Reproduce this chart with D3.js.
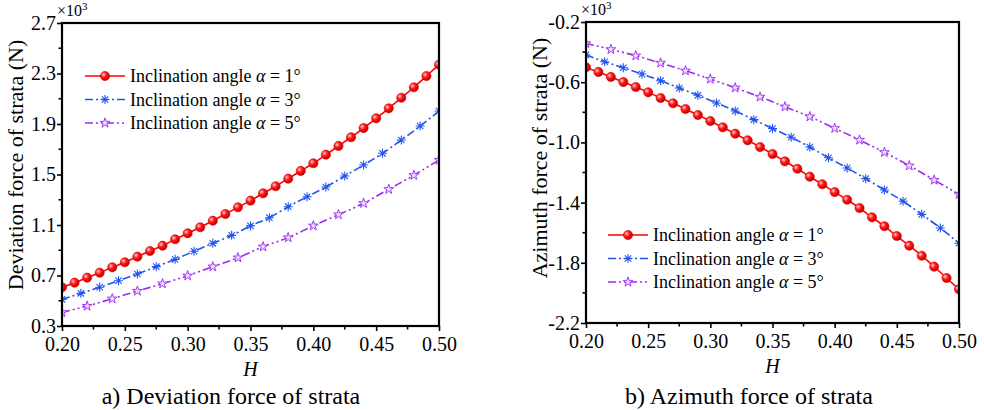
<!DOCTYPE html>
<html>
<head>
<meta charset="utf-8">
<script src="https://cdn.jsdelivr.net/npm/d3@7"></script>
<style>
  body { margin: 0; background: #fff; }
  svg { display: block; font-family: "Liberation Serif", "Times New Roman", serif; }
</style>
</head>
<body>
<svg id="chart" width="984" height="410"></svg>
<script>
// H positions of the markers for each series
var hRed = [0.20, 0.21, 0.22, 0.23, 0.24, 0.25, 0.26, 0.27, 0.28, 0.29, 0.30,
            0.31, 0.32, 0.33, 0.34, 0.35, 0.36, 0.37, 0.38, 0.39, 0.40,
            0.41, 0.42, 0.43, 0.44, 0.45, 0.46, 0.47, 0.48, 0.49, 0.50];
var hBlue = [0.20, 0.215, 0.23, 0.245, 0.26, 0.275, 0.29, 0.305, 0.32, 0.335, 0.35,
             0.365, 0.38, 0.395, 0.41, 0.425, 0.44, 0.455, 0.47, 0.485, 0.50];
var hPurple = [0.20, 0.22, 0.24, 0.26, 0.28, 0.30, 0.32, 0.34,
               0.36, 0.38, 0.40, 0.42, 0.44, 0.46, 0.48, 0.50];

// a) deviation force (x10^3 N)
var devRed = [0.607, 0.643, 0.683, 0.722, 0.765, 0.805, 0.849, 0.894, 0.936, 0.987, 1.034,
              1.082, 1.134, 1.187, 1.240, 1.293, 1.351, 1.407, 1.467, 1.528, 1.589,
              1.657, 1.726, 1.795, 1.868, 1.945, 2.024, 2.108, 2.191, 2.280, 2.370];
var devBlue = [0.511, 0.559, 0.607, 0.659, 0.712, 0.770, 0.828, 0.892, 0.955, 1.018, 1.093,
               1.158, 1.245, 1.324, 1.401, 1.488, 1.575, 1.668, 1.773, 1.884, 2.003];
var devPurple = [0.408, 0.458, 0.516, 0.577, 0.635, 0.698, 0.770, 0.841,
                 0.928, 1.000, 1.094, 1.182, 1.272, 1.383, 1.494, 1.615];

// b) azimuth force (x10^3 N)
var aziRed = [-0.501, -0.532, -0.565, -0.599, -0.632, -0.667, -0.705, -0.740, -0.778, -0.818, -0.858,
              -0.900, -0.942, -0.986, -1.031, -1.077, -1.126, -1.175, -1.228, -1.278, -1.330,
              -1.381, -1.436, -1.498, -1.557, -1.622, -1.686, -1.753, -1.826, -1.901, -1.976];
var aziBlue = [-0.419, -0.464, -0.504, -0.546, -0.590, -0.639, -0.687, -0.738, -0.791, -0.849, -0.908,
               -0.966, -1.031, -1.102, -1.170, -1.241, -1.316, -1.391, -1.478, -1.569, -1.670];
var aziPurple = [-0.342, -0.382, -0.424, -0.472, -0.524, -0.579, -0.637, -0.698,
                 -0.763, -0.829, -0.906, -0.984, -1.066, -1.155, -1.250, -1.345];

var hTicks = [0.20, 0.25, 0.30, 0.35, 0.40, 0.45, 0.50];
var hMinor = [0.225, 0.275, 0.325, 0.375, 0.425, 0.475];
var devTicks = [0.3, 0.7, 1.1, 1.5, 1.9, 2.3, 2.7];
var devMinor = [0.5, 0.9, 1.3, 1.7, 2.1, 2.5];
var aziTicks = [-2.2, -1.8, -1.4, -1.0, -0.6, -0.2];
var aziMinor = [-2.0, -1.6, -1.2, -0.8, -0.4];
var angleLabels = ["1°", "3°", "5°"];

var RED = "#ff0000", BLUE = "#2255ee", PURPLE = "#9a2cf0";
var FONT = "'Liberation Serif', 'Times New Roman', serif";

var svg = d3.select("#chart");
var defs = svg.append("defs");

var grad = defs.append("radialGradient")
    .attr("id", "ball")
    .attr("cx", "35%").attr("cy", "35%").attr("r", "65%");
grad.append("stop").attr("offset", "0%").attr("stop-color", "#ffd0d0");
grad.append("stop").attr("offset", "45%").attr("stop-color", "#ff1a1a");
grad.append("stop").attr("offset", "100%").attr("stop-color", "#c00000");

var asteriskPath = "M-4.5,0L4.5,0M0,-4.5L0,4.5M-3.2,-3.2L3.2,3.2M-3.2,3.2L3.2,-3.2";
var starPath = d3.symbol(d3.symbolStar, 30)();

var styles = [
    { color: RED, dash: null, marker: "ball" },
    { color: BLUE, dash: "8,3,2,3", marker: "asterisk" },
    { color: PURPLE, dash: "8,3,2,3,2,3", marker: "star" }
];

function drawMarker(sel, st) {
    if (st.marker == "ball") {
        sel.append("circle").attr("r", 4.6)
            .attr("fill", "url(#ball)").attr("stroke", "#e00000").attr("stroke-width", 0.6);
    } else if (st.marker == "asterisk") {
        sel.append("path").attr("d", asteriskPath)
            .attr("stroke", st.color).attr("stroke-width", 1.1).attr("fill", "none");
    } else {
        sel.append("path").attr("d", starPath)
            .attr("fill", "#eedcff").attr("stroke", st.color).attr("stroke-width", 0.9);
    }
}

function drawPanel(cfg) {
    var x = d3.scaleLinear().domain([0.20, 0.50]).range([cfg.x0, cfg.x1]);
    var y = d3.scaleLinear().domain(cfg.domain).range([cfg.y1, cfg.y0]);

    var clipId = "clip-" + cfg.id;
    defs.append("clipPath").attr("id", clipId)
      .append("rect")
        .attr("x", cfg.x0).attr("y", cfg.y0)
        .attr("width", cfg.x1 - cfg.x0).attr("height", cfg.y1 - cfg.y0);

    var g = svg.append("g").style("font-family", FONT);

    // series
    var plot = g.append("g").attr("clip-path", "url(#" + clipId + ")");
    cfg.series.forEach(function (s, i) {
        var st = styles[i];
        var pts = s.h.map(function (h, k) { return [h, s.v[k]]; });
        var line = d3.line()
            .x(function (d) { return x(d[0]); })
            .y(function (d) { return y(d[1]); })
            .curve(d3.curveMonotoneX);
        plot.append("path")
            .attr("d", line(pts))
            .attr("fill", "none")
            .attr("stroke", st.color)
            .attr("stroke-width", 1.6)
            .attr("stroke-dasharray", st.dash);
        plot.selectAll(null)
            .data(pts)
          .enter().append("g")
            .attr("transform", function (d) { return "translate(" + x(d[0]) + "," + y(d[1]) + ")"; })
            .each(function () { drawMarker(d3.select(this), st); });
    });

    // axes
    var xAxis = d3.axisBottom(x).tickValues(hTicks)
        .tickFormat(function (d) { return d.toFixed(2); })
        .tickSize(5).tickSizeOuter(0).tickPadding(6);
    var yAxis = d3.axisLeft(y).tickValues(cfg.ticks)
        .tickFormat(function (d) { return d.toFixed(1); })
        .tickSize(5).tickSizeOuter(0).tickPadding(1);

    var gx = g.append("g").attr("transform", "translate(0," + cfg.y1 + ")").call(xAxis);
    var gy = g.append("g").attr("transform", "translate(" + cfg.x0 + ",0)").call(yAxis);
    [gx, gy].forEach(function (a) {
        a.attr("font-family", FONT);
        a.select(".domain").remove();
        a.selectAll("line").attr("stroke", "#000").attr("stroke-width", 1.6);
        a.selectAll("text").attr("font-size", 20).attr("fill", "#000");
    });

    g.selectAll(null).data(hMinor).enter().append("line")
        .attr("x1", function (d) { return x(d); }).attr("x2", function (d) { return x(d); })
        .attr("y1", cfg.y1).attr("y2", cfg.y1 + 3.5)
        .attr("stroke", "#000").attr("stroke-width", 1.6);
    g.selectAll(null).data(cfg.minor).enter().append("line")
        .attr("y1", function (d) { return y(d); }).attr("y2", function (d) { return y(d); })
        .attr("x1", cfg.x0).attr("x2", cfg.x0 - 3.5)
        .attr("stroke", "#000").attr("stroke-width", 1.6);

    // frame
    g.append("rect")
        .attr("x", cfg.x0).attr("y", cfg.y0)
        .attr("width", cfg.x1 - cfg.x0).attr("height", cfg.y1 - cfg.y0)
        .attr("fill", "none").attr("stroke", "#000").attr("stroke-width", 2.2);

    // x10^3
    var exp = g.append("text")
        .attr("x", cfg.x0 - 5).attr("y", cfg.y0 - 7)
        .attr("font-size", 16);
    exp.append("tspan").text("×10");
    exp.append("tspan").attr("font-size", 11).attr("dy", -6).text("3");

    // axis titles
    g.append("text")
        .attr("x", (cfg.x0 + cfg.x1) / 2).attr("y", cfg.y1 + 50)
        .attr("text-anchor", "middle").attr("font-size", 20).attr("font-style", "italic")
        .text("H");
    g.append("text")
        .attr("transform", "translate(" + cfg.titleX + "," + cfg.titleY + ") rotate(-90)")
        .attr("text-anchor", "middle").attr("font-size", 22)
        .text(cfg.yTitle);

    // caption
    g.append("text")
        .attr("x", cfg.capX).attr("y", 404)
        .attr("text-anchor", "middle").attr("font-size", 24)
        .text(cfg.caption);

    // legend
    var lg = g.append("g");
    angleLabels.forEach(function (lab, i) {
        var st = styles[i];
        var ly = cfg.legY + i * 23.5;
        lg.append("line")
            .attr("x1", cfg.legX).attr("x2", cfg.legX + 40)
            .attr("y1", ly).attr("y2", ly)
            .attr("stroke", st.color).attr("stroke-width", 1.6)
            .attr("stroke-dasharray", st.dash);
        var m = lg.append("g").attr("transform", "translate(" + (cfg.legX + 20) + "," + ly + ")");
        drawMarker(m, st);
        var t = lg.append("text")
            .attr("x", cfg.legX + 45).attr("y", ly + 6)
            .attr("font-size", 18);
        t.append("tspan").text("Inclination angle ");
        t.append("tspan").attr("font-style", "italic").text("α");
        t.append("tspan").text(" = " + lab);
    });
}

drawPanel({
    id: "a", x0: 62, x1: 439, y0: 23, y1: 326,
    domain: [0.3, 2.7], ticks: devTicks, minor: devMinor,
    series: [{ h: hRed, v: devRed }, { h: hBlue, v: devBlue }, { h: hPurple, v: devPurple }],
    yTitle: "Deviation force of strata (N)", titleX: 23, titleY: 165,
    caption: "a) Deviation force of strata", capX: 231,
    legX: 85, legY: 76
});

drawPanel({
    id: "b", x0: 586, x1: 959, y0: 22, y1: 323,
    domain: [-2.2, -0.2], ticks: aziTicks, minor: aziMinor,
    series: [{ h: hRed, v: aziRed }, { h: hBlue, v: aziBlue }, { h: hPurple, v: aziPurple }],
    yTitle: "Azimuth force of strata (N)", titleX: 547, titleY: 158,
    caption: "b) Azimuth force of strata", capX: 749,
    legX: 608, legY: 235
});
</script>
</body>
</html>
